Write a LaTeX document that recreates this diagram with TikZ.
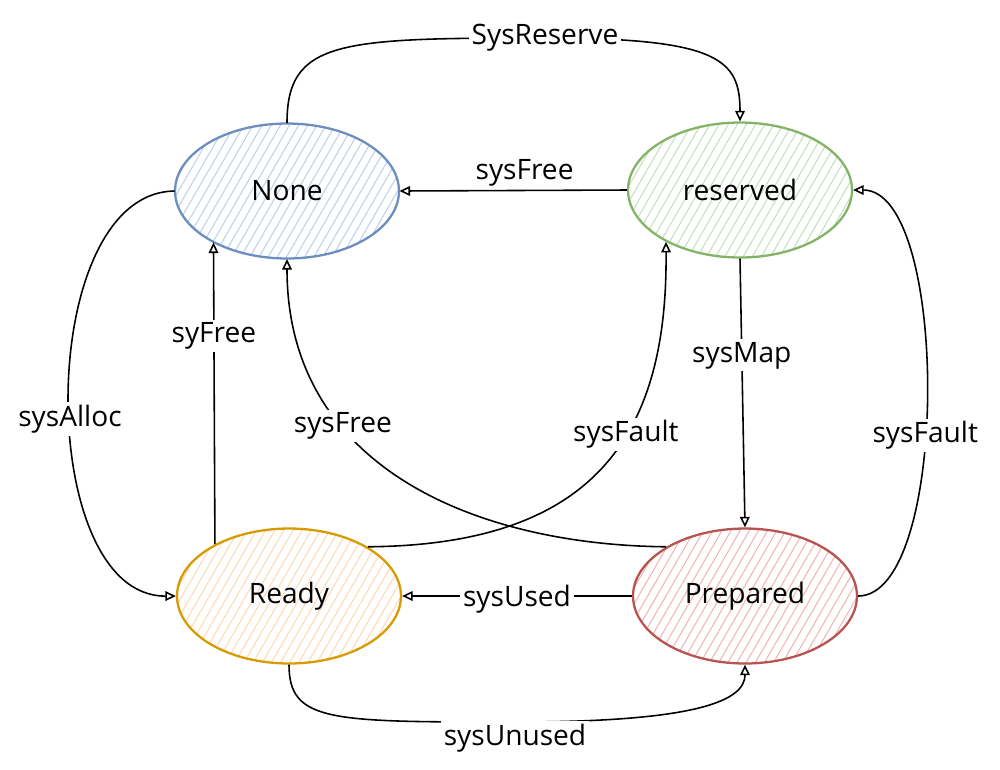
\documentclass[tikz,border=0pt]{standalone}
\usepackage{fontspec}
\setmainfont{Open Sans}
\usetikzlibrary{shapes.geometric, arrows.meta, patterns.meta}
\definecolor{smBlue}{RGB}{108,142,191}
\definecolor{smBlueFill}{RGB}{190,208,238}
\definecolor{smGreen}{RGB}{130,179,102}
\definecolor{smGreenFill}{RGB}{195,224,188}
\definecolor{smOrange}{RGB}{215,155,0}
\definecolor{smOrangeFill}{RGB}{255,216,180}
\definecolor{smRed}{RGB}{184,84,80}
\definecolor{smRedFill}{RGB}{242,180,180}

\begin{document}
\begin{tikzpicture}[x=0.02cm, y=-0.02cm,
      state/.style={ellipse, line width=1.3pt, minimum width=4.48cm, minimum height=2.7cm, inner sep=0pt, font=\fontsize{16}{19}\selectfont},
      hatch/.style={pattern={Lines[angle=60, distance=4.5pt, line width=0.6pt]}, pattern color=#1},
      trans/.style={-{Triangle[open, length=6pt, width=5.5pt]}, line width=0.9pt},
      lbl/.style={fill=white, inner sep=1.5pt, font=\fontsize{16}{19}\selectfont}
    ]
      \useasboundingbox (0,0) rectangle (1000,769);
      % states
      \node[state, draw=smBlue, hatch=smBlueFill] (none) at (287,191) {None};
      \node[state, draw=smGreen, hatch=smGreenFill] (reserved) at (740,190) {reserved};
      \node[state, draw=smOrange, hatch=smOrangeFill] (ready) at (289,596) {Ready};
      \node[state, draw=smRed, hatch=smRedFill] (prepared) at (745,596) {Prepared};

      % transitions
      \draw[trans] (none.north) .. controls (287,40) and (340,38) .. (545,38) node[lbl] {SysReserve}
        .. controls (720,38) and (740,60) .. (reserved.north);
      \draw[trans] (reserved.west) -- node[pos=0.45, above, inner sep=2pt, font=\fontsize{16}{19}\selectfont] {sysFree} (none.east);
      \draw[trans] (none.west) .. controls (34,193) and (34,597) .. node[lbl, pos=0.54] {sysAlloc} (ready.west);
      \draw[trans] (ready.145) -- node[lbl, pos=0.69] {syFree} (none.215);
      \draw[trans] (prepared.148) .. controls (480,545) and (287,470) .. node[lbl, pos=0.67] {sysFree} (none.south);
      \draw[trans] (ready.32) .. controls (590,545) and (668,440) .. node[lbl, pos=0.6] {sysFault} (reserved.215);
      \draw[trans] (reserved.south) -- node[lbl, pos=0.36] {sysMap} (prepared.north);
      \draw[trans] (prepared.east) .. controls (950,596) and (950,190) .. node[lbl, pos=0.43] {sysFault} (reserved.east);
      \draw[trans] (prepared.west) -- node[lbl, yshift=-2pt] {sysUsed} (ready.east);
      \draw[trans] (ready.south) .. controls (289,722) and (330,722) .. (515,722) node[lbl, yshift=-9pt] {sysUnused}
        .. controls (700,722) and (745,700) .. (prepared.south);
    \end{tikzpicture}
\end{document}
